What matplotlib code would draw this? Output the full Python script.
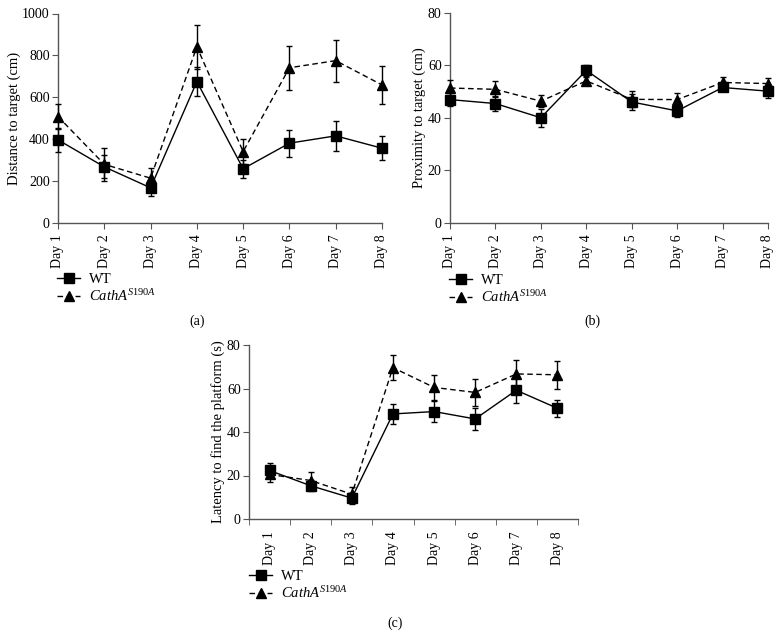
import numpy as np
import matplotlib
matplotlib.use("Agg")
import matplotlib.pyplot as plt
from matplotlib.lines import Line2D

plt.rcParams['font.family'] = ['Liberation Serif', 'DejaVu Serif']
plt.rcParams['mathtext.fontset'] = 'custom'
plt.rcParams['mathtext.rm'] = 'Liberation Serif'
plt.rcParams['mathtext.it'] = 'Liberation Serif:italic'

days = ['Day 1', 'Day 2', 'Day 3', 'Day 4', 'Day 5', 'Day 6', 'Day 7', 'Day 8']

# (a) distance to target (cm)
dist_wt = [397, 268, 168, 675, 259, 381, 416, 357]
dist_wt_err = [58, 55, 40, 68, 42, 65, 70, 58]
dist_ko = [508, 280, 214, 841, 341, 741, 775, 659]
dist_ko_err = [60, 80, 50, 105, 58, 105, 100, 92]

# (b) proximity to target (cm)
prox_wt = [46.9, 45.4, 40.0, 58.0, 46.0, 42.6, 51.5, 50.1]
prox_wt_err = [2.5, 3.0, 3.5, 2.0, 3.0, 2.5, 1.5, 2.5]
prox_ko = [51.3, 50.8, 46.3, 54.0, 47.0, 46.9, 53.4, 53.0]
prox_ko_err = [3.2, 3.0, 2.2, 1.5, 3.0, 2.4, 2.0, 2.2]

# (c) latency to find the platform (s)
lat_wt = [22.3, 15.3, 9.6, 48.3, 49.4, 46.0, 59.2, 50.9]
lat_wt_err = [3.4, 2.5, 2.5, 4.8, 4.8, 5.1, 6.0, 4.0]
lat_ko = [20.5, 17.7, 11.4, 69.6, 60.5, 58.2, 66.7, 66.3]
lat_ko_err = [3.4, 4.0, 3.4, 5.7, 5.7, 6.2, 6.4, 6.5]

ko_label = r'$\mathit{CathA}^{\mathit{S190A}}$'
ko_dash = (0, (4, 2.5))
spine_col = '#555555'

fig = plt.figure(figsize=(7.83, 6.44), dpi=100)


def panel(rect, wt, wt_err, ko, ko_err, ylim, yticks, ylabel, between=False):
    ax = fig.add_axes(rect)
    x = np.arange(1, len(days) + 1)
    ax.errorbar(x, ko, yerr=ko_err, color='black', lw=1, ls=ko_dash,
                marker='^', ms=6.5, capsize=2.5, elinewidth=1, capthick=1,
                clip_on=False, zorder=3)
    ax.errorbar(x, wt, yerr=wt_err, color='black', lw=1, ls='-',
                marker='s', ms=6.5, capsize=2.5, elinewidth=1, capthick=1,
                clip_on=False, zorder=4)
    ax.set_ylim(ylim)
    ax.set_yticks(yticks)
    ax.set_ylabel(ylabel, fontsize=10.5, labelpad=1)
    for s in ['top', 'right']:
        ax.spines[s].set_visible(False)
    for s in ['left', 'bottom']:
        ax.spines[s].set_color(spine_col)
        ax.spines[s].set_linewidth(1)
    if between:
        ax.set_xlim(0.5, len(days) + 0.5)
        ax.set_xticks(x)
        ax.set_xticklabels(days, rotation=90)
        ax.set_xticks(np.arange(0.5, len(days) + 1), minor=True)
        ax.tick_params(axis='x', which='major', length=0, pad=9)
        ax.tick_params(axis='x', which='minor', length=4, color=spine_col)
    else:
        ax.set_xlim(1, len(days))
        ax.set_xticks(x)
        ax.set_xticklabels(days, rotation=90)
        ax.tick_params(axis='x', length=4, color=spine_col, pad=4)
    ax.tick_params(axis='y', length=4, color=spine_col, pad=2)
    ax.tick_params(labelsize=10)
    return ax


def add_legend(fx, fy):
    handles = [Line2D([], [], color='black', lw=1, ls='-', marker='s', ms=6.5),
               Line2D([], [], color='black', lw=1, ls=ko_dash, marker='^', ms=6.5)]
    fig.legend(handles, ['WT', ko_label], loc='upper left', bbox_to_anchor=(fx, fy),
               frameon=False, fontsize=10.5, handlelength=1.6, handletextpad=0.6,
               labelspacing=0.15, borderaxespad=0, borderpad=0)


panel([58 / 783, 1 - 223 / 644, 324 / 783, 209.5 / 644],
      dist_wt, dist_wt_err, dist_ko, dist_ko_err,
      (0, 1000), [0, 200, 400, 600, 800, 1000], 'Distance to target (cm)')
panel([450 / 783, 1 - 223 / 644, 318 / 783, 210.5 / 644],
      prox_wt, prox_wt_err, prox_ko, prox_ko_err,
      (0, 80), [0, 20, 40, 60, 80], 'Proximity to target (cm)')
panel([249 / 783, 1 - 519 / 644, 329 / 783, 174 / 644],
      lat_wt, lat_wt_err, lat_ko, lat_ko_err,
      (0, 80), [0, 20, 40, 60, 80], 'Latency to find the platform (s)',
      between=True)

add_legend(57 / 783, 1 - 273 / 644)
add_legend(449 / 783, 1 - 274 / 644)
add_legend(249 / 783, 1 - 570 / 644)

fig.text(197 / 783, 1 - 321 / 644, '(a)', ha='center', va='center', fontsize=10)
fig.text(592 / 783, 1 - 321 / 644, '(b)', ha='center', va='center', fontsize=10)
fig.text(395 / 783, 1 - 623 / 644, '(c)', ha='center', va='center', fontsize=10)

fig.savefig('out.png', dpi=100)
